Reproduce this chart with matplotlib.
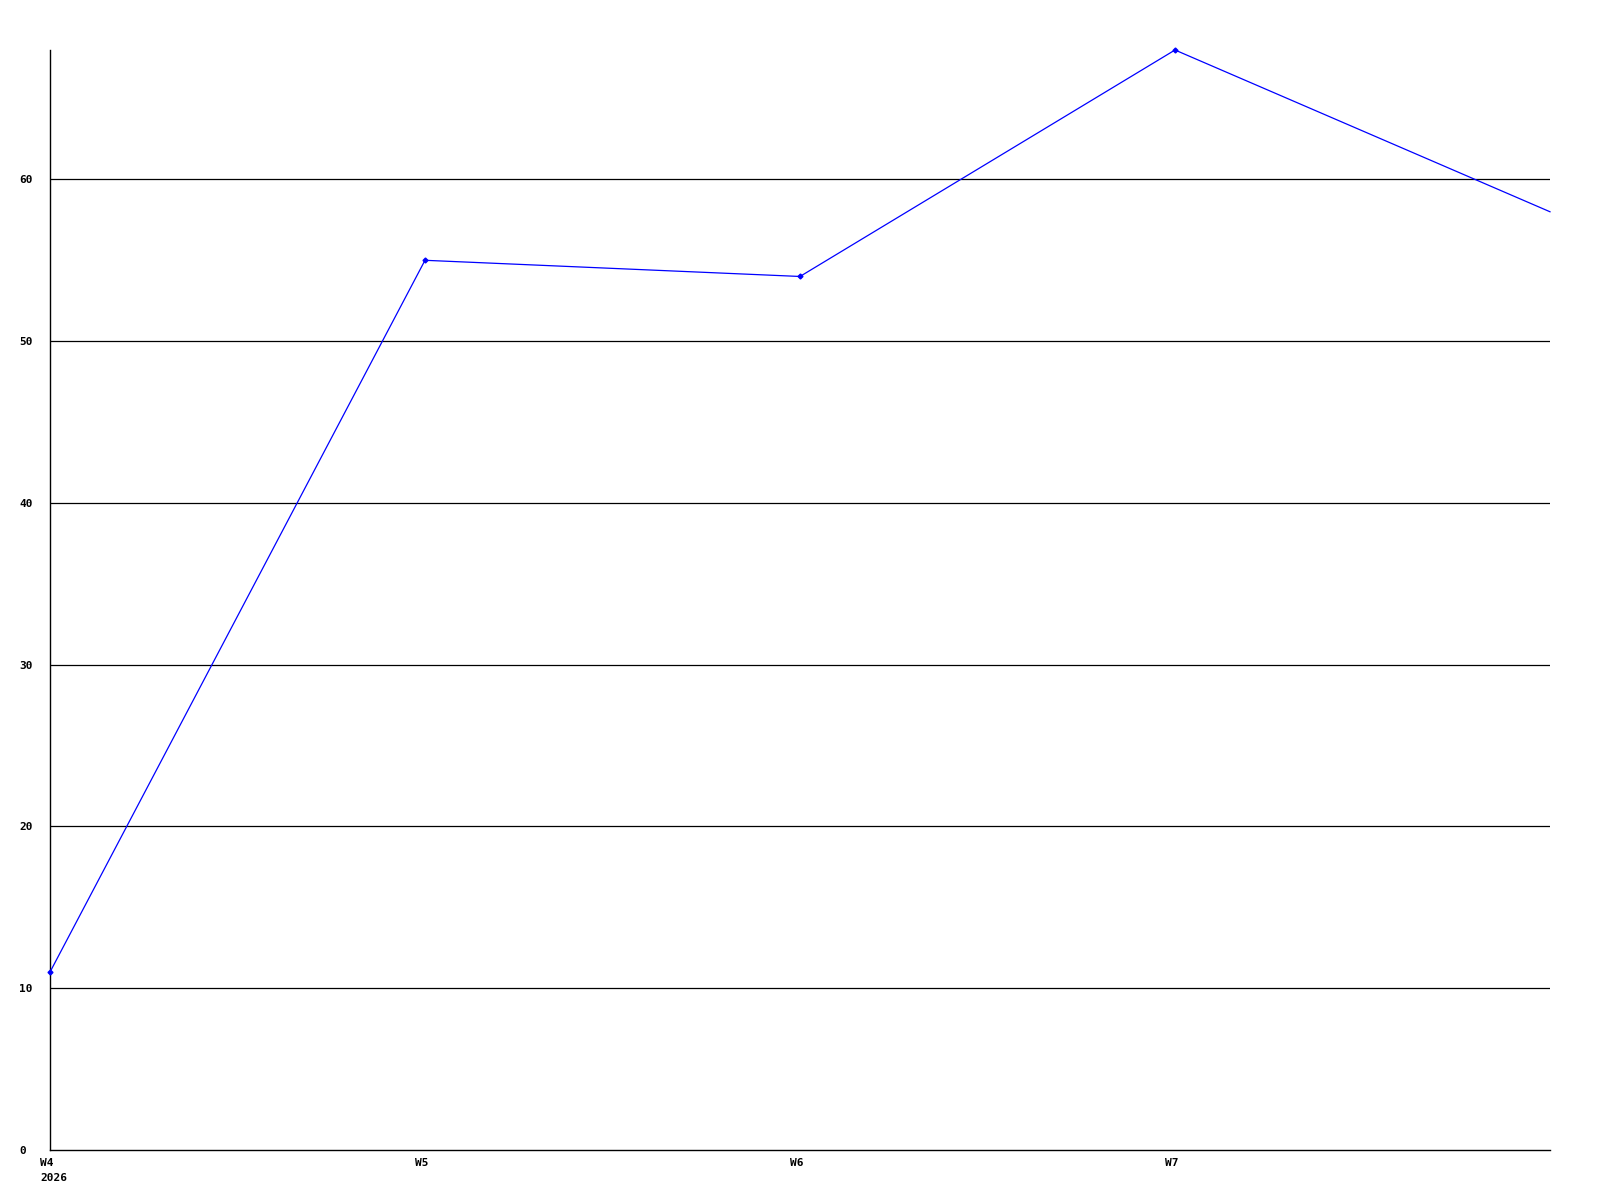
import matplotlib
matplotlib.use('Agg')
import matplotlib.pyplot as plt
import matplotlib.transforms as mtransforms

# weekly values
weeks = ['W4\n2026', 'W5', 'W6', 'W7', 'W8']
values = [11, 55, 54, 68, 58]
yticks = [0, 10, 20, 30, 40, 50, 60]

fig = plt.figure(figsize=(16, 12), dpi=100)
ax = fig.add_axes([50 / 1600, 50 / 1200, 1500 / 1600, 1100 / 1200])

xs = list(range(len(values)))
ax.plot(xs, values, color='#0000ff', lw=0.9, marker='D', markersize=2.5,
        markevery=list(range(len(values) - 1)), zorder=3, clip_on=False)

ax.set_xlim(0, len(values) - 1)
ax.set_ylim(0, max(values))

for t in yticks[1:]:
    ax.axhline(t, color='black', lw=0.9, zorder=1)

ax.spines['top'].set_visible(False)
ax.spines['right'].set_visible(False)
ax.spines['left'].set_linewidth(1.0)
ax.spines['bottom'].set_linewidth(1.0)

ax.set_yticks(yticks)
ax.set_yticklabels([str(t) for t in yticks], fontfamily='DejaVu Sans Mono',
                   fontweight='bold', fontsize=8, ha='left')
ax.set_xticks(xs[:-1])
ax.set_xticklabels(weeks[:-1], fontfamily='DejaVu Sans Mono',
                   fontweight='bold', fontsize=8, ha='left', va='top',
                   linespacing=1.6)
ax.tick_params(axis='both', length=0)
ax.tick_params(axis='y', pad=22)
ax.tick_params(axis='x', pad=6)

offset = mtransforms.ScaledTranslation(-10 / 100, 0, fig.dpi_scale_trans)
for lab in ax.get_xticklabels():
    lab.set_transform(lab.get_transform() + offset)

fig.savefig('out.png', dpi=100, facecolor='white')
